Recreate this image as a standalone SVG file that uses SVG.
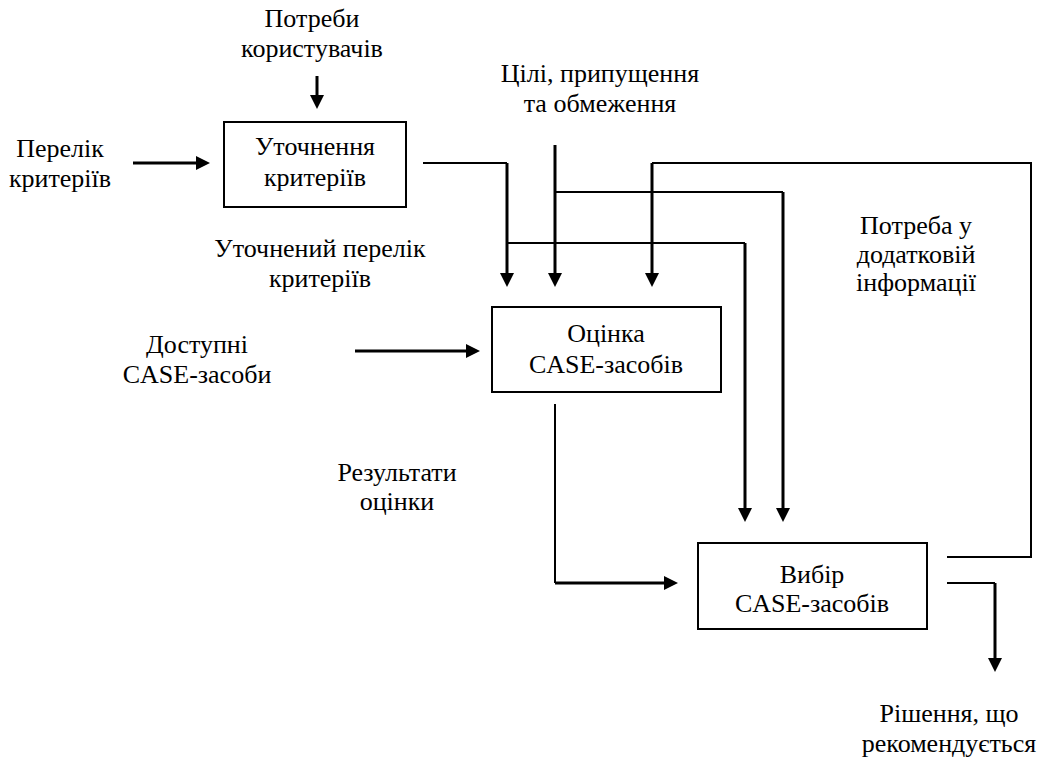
<svg xmlns="http://www.w3.org/2000/svg" width="1050" height="760" viewBox="0 0 1050 760">
<defs>
<style>
.box{fill:#fff;stroke:#000;stroke-width:2}
.thin{fill:none;stroke:#000;stroke-width:2}
.thick{fill:none;stroke:#000;stroke-width:3}
</style>
<marker id="ah" markerUnits="userSpaceOnUse" markerWidth="14" markerHeight="14" refX="6" refY="7" orient="auto">
<path d="M0,0 L14,7 L0,14 z" fill="#000"/>
</marker>
</defs>
<rect width="1050" height="760" fill="#fff"/>
<g font-family="Times New Roman, Liberation Serif, Tinos, Noto Serif, DejaVu Serif, serif" font-size="26" text-anchor="middle" fill="#000">
<g id="labels">
<text x="312" y="27">Потреби</text>
<text x="312" y="57">користувачів</text>
<text x="60" y="157">Перелік</text>
<text x="60" y="187">критеріїв</text>
<text x="600" y="82">Цілі, припущення</text>
<text x="600" y="112">та обмеження</text>
<text x="320" y="257">Уточнений перелік</text>
<text x="320" y="287">критеріїв</text>
<text x="916" y="234">Потреба у</text>
<text x="916" y="263">додатковій</text>
<text x="916" y="291">інформації</text>
<text x="197" y="353">Доступні</text>
<text x="197" y="383">CASE-засоби</text>
<text x="397" y="481">Результати</text>
<text x="397" y="510">оцінки</text>
<text x="949" y="722">Рішення, що</text>
<text x="949" y="752">рекомендується</text>
</g>
<g id="node-refine">
<rect class="box" x="224" y="122" width="182" height="85"/>
<text x="315" y="155">Уточнення</text>
<text x="315" y="186">критеріїв</text>
</g>
<g id="node-evaluate">
<rect class="box" x="492" y="307" width="229" height="85"/>
<text x="606" y="342">Оцінка</text>
<text x="606" y="373">CASE-засобів</text>
</g>
<g id="node-select">
<rect class="box" x="698" y="543" width="229" height="86"/>
<text x="812" y="583">Вибір</text>
<text x="812" y="612">CASE-засобів</text>
</g>
</g>
<g id="connectors">
<path class="thick" d="M317,76 V101" marker-end="url(#ah)"/>
<path class="thick" d="M133,163 H202" marker-end="url(#ah)"/>
<path class="thin" d="M423,163 H507"/>
<path class="thick" d="M507,163 V279" marker-end="url(#ah)"/>
<path class="thick" d="M555,145 V279" marker-end="url(#ah)"/>
<path class="thin" d="M555,192 H783"/>
<path class="thick" d="M783,192 V514" marker-end="url(#ah)"/>
<path class="thin" d="M507,243 H745"/>
<path class="thick" d="M745,243 V514" marker-end="url(#ah)"/>
<path class="thin" d="M947,557 H1031 V163 H652"/>
<path class="thick" d="M652,163 V279" marker-end="url(#ah)"/>
<path class="thick" d="M355,351 H472" marker-end="url(#ah)"/>
<path class="thin" d="M555,404 V583"/>
<path class="thick" d="M555,583 H670" marker-end="url(#ah)"/>
<path class="thin" d="M947,583 H995"/>
<path class="thick" d="M995,583 V664" marker-end="url(#ah)"/>
</g>
</svg>
